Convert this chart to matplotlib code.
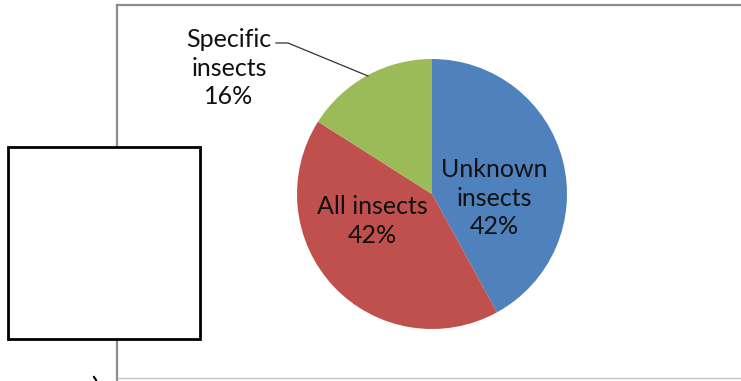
import matplotlib
matplotlib.use("Agg")
import matplotlib.pyplot as plt
from matplotlib.patches import Rectangle
from matplotlib.lines import Line2D

categories = ["Unknown\ninsects", "All insects", "Specific\ninsects"]
shares = [42, 42, 16]
colors = ["#4F81BD", "#C0504D", "#9BBB59"]

W, H = 741, 381
fig = plt.figure(figsize=(W / 100, H / 100), dpi=100)
fig.patch.set_facecolor("white")
plt.rcParams["font.family"] = ["Lato", "DejaVu Sans"]

def px(x, y):
    return x / W, 1 - y / H

# chart area frame
fig.add_artist(Line2D([117 / W, 117 / W], [px(0, 380)[1], px(0, 5)[1]], color="#8c8c8c", lw=1.6))
fig.add_artist(Line2D([117 / W, 1.0], [px(0, 5)[1]] * 2, color="#8c8c8c", lw=1.6))
fig.add_artist(Line2D([118 / W, 1.0], [px(0, 378)[1]] * 2, color="#c4c4c4", lw=1.0))

# pie
cx, cy, r = 432, 194, 135
ax = fig.add_axes([(cx - r) / W, 1 - (cy + r) / H, 2 * r / W, 2 * r / H])
wedges, _ = ax.pie(shares, colors=colors, startangle=90, counterclock=False,
                   radius=1.0, wedgeprops=dict(linewidth=0))
ax.set_xlim(-1, 1)
ax.set_ylim(-1, 1)
ax.set_aspect("equal")
ax.axis("off")

fs = 18
ls = 1.3
lab = [f"{c}\n{v}%" for c, v in zip(categories, shares)]
ax.text(0.46, -0.03, lab[0], ha="center", va="center", fontsize=fs, color="#111111", linespacing=ls)
ax.text(-0.44, -0.20, lab[1], ha="center", va="center", fontsize=fs, color="#111111", linespacing=ls)

# outside label with leader line
fig.text(229 / W, 1 - 68 / H, lab[2], ha="center", va="center", fontsize=fs,
         color="#111111", linespacing=ls)
fig.add_artist(Line2D([276 / W, 288 / W, 368 / W],
                      [1 - 43 / H, 1 - 43 / H, 1 - 76 / H], color="#333333", lw=0.9))

# white box overlay
fig.add_artist(Rectangle(px(8, 339), 192 / W, 192 / H, facecolor="white",
                         edgecolor="black", lw=2.0, zorder=10))
fig.add_artist(Line2D([94 / W, 96 / W], [1 - 377 / H, 1 - 380 / H], color="black", lw=1.5))

fig.savefig("out.png", dpi=100, facecolor="white")
